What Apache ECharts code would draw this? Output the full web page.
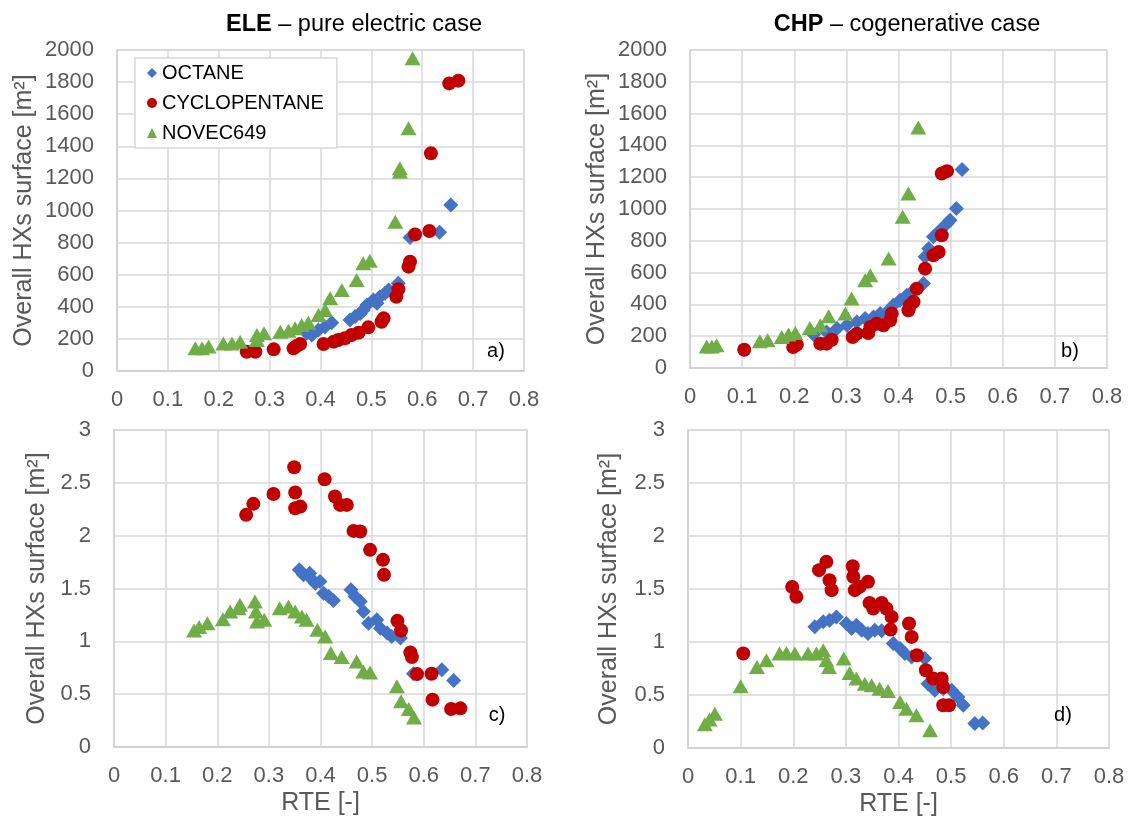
<!DOCTYPE html>
<html>
<head>
<meta charset="utf-8">
<script src="https://cdn.jsdelivr.net/npm/echarts@6/dist/echarts.min.js"></script>
<style>
html,body{margin:0;padding:0;background:#fff;}
#chart{width:1128px;height:821px;}
</style>
</head>
<body>
<div id="chart"></div>
<script>
// ---------- DATA ----------
var seriesNames = ['OCTANE', 'CYCLOPENTANE', 'NOVEC649'];
var panelTitles = ['ELE', 'CHP'];
var panelSubtitles = [' – pure electric case', ' – cogenerative case'];
var panelTags = ['a)', 'b)', 'c)', 'd)'];
var xName = 'RTE [-]';
var yName = 'Overall HXs surface [m²]';

// a) ELE - overall HXs surface [m2] vs RTE
var eleSurfOctane = [
  [0.373,235],[0.383,224],[0.396,255],[0.409,276],[0.422,301],
  [0.458,318],[0.468,339],[0.478,359],[0.484,380],[0.491,411],[0.504,442],[0.511,422],
  [0.517,463],[0.527,484],[0.534,505],[0.553,546],
  [0.576,831],[0.634,864],[0.656,1034]
];
var eleSurfCyclo = [
  [0.255,120],[0.272,120],[0.308,135],[0.347,141],[0.353,156],[0.360,168],
  [0.406,168],[0.426,183],[0.435,193],[0.448,204],[0.461,224],[0.475,239],[0.494,272],
  [0.520,307],[0.524,328],[0.549,463],[0.553,509],[0.573,650],[0.576,681],
  [0.586,851],[0.614,872],[0.617,1356],[0.653,1792],[0.671,1809]
];
var eleSurfNovec = [
  [0.154,141],[0.167,141],[0.180,152],[0.209,172],[0.226,172],[0.242,183],
  [0.275,224],[0.275,193],[0.289,235],[0.321,245],[0.337,251],[0.350,266],[0.363,287],[0.376,301],
  [0.396,349],[0.409,380],[0.419,453],[0.442,505],[0.471,567],[0.484,671],[0.497,687],
  [0.547,930],[0.556,1263],[0.556,1242],[0.573,1512],[0.581,1948]
];

// b) CHP - overall HXs surface [m2] vs RTE
var chpSurfOctane = [
  [0.237,210],[0.262,227],[0.282,248],[0.301,269],[0.320,290],[0.336,311],[0.352,321],
  [0.365,342],[0.378,352],[0.390,395],[0.403,426],[0.416,457],[0.429,489],[0.448,531],
  [0.451,699],[0.458,751],[0.467,825],[0.480,867],[0.493,909],[0.499,930],
  [0.511,1003],[0.522,1249]
];
var chpSurfCyclo = [
  [0.104,115],[0.198,132],[0.205,147],[0.250,153],[0.262,153],[0.272,178],
  [0.312,195],[0.320,216],[0.342,220],[0.346,258],[0.358,279],[0.371,269],[0.384,300],[0.387,342],
  [0.419,363],[0.422,395],[0.429,416],[0.435,499],[0.451,625],[0.467,709],[0.477,730],
  [0.483,835],[0.483,1223],[0.493,1238]
];
var chpSurfNovec = [
  [0.032,136],[0.042,136],[0.051,143],[0.134,168],[0.149,174],
  [0.176,195],[0.189,210],[0.202,220],[0.230,252],[0.250,269],[0.266,325],
  [0.298,342],[0.310,437],[0.336,552],[0.346,583],[0.381,688],
  [0.408,951],[0.419,1098],[0.438,1513]
];

// c) ELE - specific HXs surface vs RTE
var eleSpecOctane = [
  [0.359,1.677],[0.367,1.629],[0.379,1.645],[0.383,1.588],[0.390,1.550],[0.399,1.566],
  [0.406,1.456],[0.416,1.424],[0.425,1.387],
  [0.459,1.488],[0.467,1.424],[0.477,1.377],[0.483,1.283],[0.493,1.172],[0.509,1.204],
  [0.516,1.125],[0.529,1.078],[0.538,1.046],[0.555,1.031],
  [0.580,0.693],[0.635,0.731],[0.658,0.630]
];
var eleSpecCyclo = [
  [0.256,2.197],[0.270,2.301],[0.309,2.395],[0.349,2.647],[0.351,2.408],[0.351,2.260],[0.361,2.275],
  [0.408,2.534],[0.428,2.370],[0.438,2.291],[0.451,2.291],[0.464,2.045],[0.477,2.039],
  [0.496,1.866],[0.521,1.771],[0.523,1.629],[0.549,1.194],[0.556,1.103],
  [0.574,0.895],[0.577,0.851],[0.587,0.690],[0.615,0.693],[0.617,0.448],[0.653,0.359],[0.671,0.366]
];
var eleSpecNovec = [
  [0.155,1.103],[0.165,1.135],[0.181,1.172],[0.211,1.210],[0.225,1.283],[0.241,1.314],[0.244,1.346],
  [0.273,1.377],[0.275,1.283],[0.277,1.188],[0.291,1.204],
  [0.321,1.314],[0.338,1.330],[0.351,1.283],[0.364,1.235],[0.373,1.204],
  [0.394,1.109],[0.409,1.046],[0.420,0.889],[0.441,0.851],[0.470,0.810],[0.483,0.715],[0.496,0.706],
  [0.548,0.574],[0.556,0.432],[0.571,0.359],[0.581,0.280]
];

// d) CHP - specific HXs surface vs RTE
var chpSpecOctane = [
  [0.241,1.143],[0.257,1.190],[0.269,1.206],[0.282,1.237],
  [0.301,1.174],[0.311,1.127],[0.320,1.158],[0.330,1.111],[0.342,1.080],[0.355,1.111],[0.368,1.105],
  [0.390,0.985],[0.403,0.938],[0.412,0.891],[0.425,0.859],[0.450,0.844],
  [0.456,0.607],[0.469,0.545],[0.485,0.560],[0.501,0.545],[0.513,0.482],[0.523,0.403],
  [0.545,0.230],[0.560,0.236]
];
var chpSpecCyclo = [
  [0.105,0.891],[0.198,1.520],[0.206,1.426],[0.249,1.678],[0.263,1.756],[0.269,1.583],[0.273,1.489],
  [0.313,1.715],[0.314,1.615],[0.317,1.489],[0.326,1.520],[0.342,1.568],
  [0.345,1.369],[0.352,1.316],[0.368,1.369],[0.377,1.316],[0.387,1.237],[0.385,1.117],
  [0.420,1.174],[0.425,1.048],[0.435,0.875],[0.452,0.733],[0.466,0.655],[0.482,0.655],[0.485,0.576],
  [0.485,0.403],[0.496,0.403]
];
var chpSpecNovec = [
  [0.032,0.223],[0.041,0.268],[0.051,0.324],[0.100,0.582],[0.131,0.765],[0.149,0.828],
  [0.174,0.891],[0.187,0.897],[0.203,0.891],[0.228,0.891],[0.244,0.891],[0.257,0.922],
  [0.263,0.828],[0.268,0.765],[0.296,0.844],
  [0.307,0.708],[0.320,0.655],[0.336,0.607],[0.349,0.592],[0.364,0.560],[0.380,0.538],
  [0.403,0.434],[0.415,0.371],[0.434,0.308],[0.460,0.167]
];

// ---------- STYLE ----------
var FONT = '"Liberation Sans", Arial, sans-serif';
var GREY = '#595959';
var GRIDC = '#d9d9d9';
var colors = ['#4472C4', '#C00000', '#70AD47'];
var symbols = ['diamond', 'circle', 'triangle'];
var symbolSizes = [[15, 15], 14, [16, 14]];

var grids = [
  {left: 117, top: 50, width: 407, height: 321},
  {left: 690, top: 50, width: 417, height: 318},
  {left: 114, top: 430, width: 413, height: 317},
  {left: 688, top: 430, width: 421, height: 318}
];
var yMax = [2000, 2000, 3, 3];
var yStep = [200, 200, 0.5, 0.5];
var yNameGap = [80, 80, 64, 66];

var panelData = [
  [eleSurfOctane, eleSurfCyclo, eleSurfNovec],
  [chpSurfOctane, chpSurfCyclo, chpSurfNovec],
  [eleSpecOctane, eleSpecCyclo, eleSpecNovec],
  [chpSpecOctane, chpSpecCyclo, chpSpecNovec]
];

function plainNum(v) { return String(Math.round(v * 1000) / 1000); }

var gridOpts = [], xAxes = [], yAxes = [], series = [];
for (var p = 0; p < 4; p++) {
  gridOpts.push(Object.assign({show: true, borderColor: GRIDC, borderWidth: 1.5, backgroundColor: '#fff'}, grids[p]));
  xAxes.push({
    type: 'value', gridIndex: p, min: 0, max: 0.8, interval: 0.1,
    name: p >= 2 ? xName : '', nameLocation: 'middle', nameGap: 44,
    nameTextStyle: {color: GREY, fontSize: 25, fontFamily: FONT},
    axisLine: {show: true, lineStyle: {color: '#d0d0d0', width: 1.5}},
    axisTick: {show: false},
    axisLabel: {color: GREY, fontSize: 22, fontFamily: FONT, margin: 18, formatter: plainNum},
    splitLine: {show: true, lineStyle: {color: GRIDC, width: 1.5}}
  });
  yAxes.push({
    type: 'value', gridIndex: p, min: 0, max: yMax[p], interval: yStep[p],
    name: yName, nameLocation: 'middle', nameGap: yNameGap[p],
    nameTextStyle: {color: GREY, fontSize: 25, fontFamily: FONT},
    axisLine: {show: true, lineStyle: {color: '#d0d0d0', width: 1.5}},
    axisTick: {show: false},
    axisLabel: {color: GREY, fontSize: 22, fontFamily: FONT, margin: 23, formatter: plainNum},
    splitLine: {show: true, lineStyle: {color: GRIDC, width: 1.5}}
  });
  for (var s = 0; s < 3; s++) {
    series.push({
      name: seriesNames[s], type: 'scatter', xAxisIndex: p, yAxisIndex: p,
      data: panelData[p][s], symbol: symbols[s], symbolSize: symbolSizes[s],
      itemStyle: {color: colors[s], opacity: 1}, z: 2 + s,
      emphasis: {disabled: true}, animation: false
    });
  }
}

var tagPos = [[496, 351], [1070, 351], [497, 715], [1063, 715]];
var graphics = tagPos.map(function (pos, i) {
  return {type: 'text', x: pos[0], y: pos[1], z: 100,
    style: {text: panelTags[i], fill: '#000', font: '20px ' + FONT, align: 'center', verticalAlign: 'middle'}};
});

var titleRich = {
  b: {fontWeight: 'bold', fontSize: 23.5, color: '#000', fontFamily: FONT},
  n: {fontWeight: 'normal', fontSize: 23.5, color: '#000', fontFamily: FONT}
};

var option = {
  backgroundColor: '#fff',
  animation: false,
  title: [
    {text: '{b|' + panelTitles[0] + '}{n|' + panelSubtitles[0] + '}', left: 349, top: 8, textAlign: 'center',
     textStyle: {fontWeight: 'normal', fontSize: 23.5, fontFamily: FONT, color: '#000', rich: titleRich}},
    {text: '{b|' + panelTitles[1] + '}{n|' + panelSubtitles[1] + '}', left: 902, top: 8, textAlign: 'center',
     textStyle: {fontWeight: 'normal', fontSize: 23.5, fontFamily: FONT, color: '#000', rich: titleRich}}
  ],
  legend: {
    data: seriesNames, orient: 'vertical', left: 135, top: 58,
    padding: [5, 13, 5, 12], itemGap: 10, itemWidth: 10, itemHeight: 10,
    backgroundColor: '#fff', borderColor: GRIDC, borderWidth: 1.5,
    textStyle: {color: '#000', fontSize: 20, fontFamily: FONT, lineHeight: 20},
    selectedMode: false, z: 50
  },
  grid: gridOpts,
  xAxis: xAxes,
  yAxis: yAxes,
  series: series,
  graphic: graphics
};

var chart = echarts.init(document.getElementById('chart'), null, {renderer: 'canvas'});
chart.setOption(option);
</script>
</body>
</html>
